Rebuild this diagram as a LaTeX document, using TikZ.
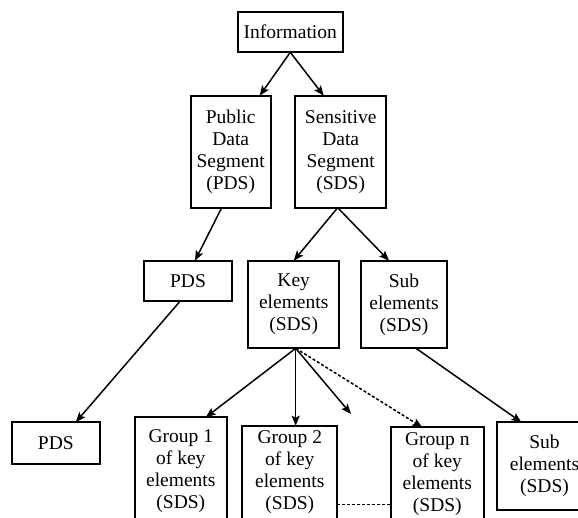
\documentclass[tikz,border=0pt]{standalone}
\usepackage{fontspec}
\setmainfont{Liberation Serif}
\usetikzlibrary{arrows.meta}
\begin{document}
\begin{tikzpicture}[x=1pt,y=-1pt,
    box/.style={draw, line width=2pt, align=center, inner sep=1pt, outer sep=0pt,
                font=\fontsize{19.5}{22}\selectfont},
    link/.style={line width=1.5pt, -{Stealth[length=10pt,width=8pt,inset=2pt]}}]
  \path[use as bounding box, clip] (0,0) rectangle (578,518);
  \path (290.3,32)  node[box, minimum width=105, minimum height=40.6] (info) {Information}
        (230.7,151.7) node[box, minimum width=80, minimum height=112] (pub) {Public\\Data\\Segment\\(PDS)}
        (340.7,151.7) node[box, minimum width=91.3, minimum height=112] (sen) {Sensitive\\Data\\Segment\\(SDS)}
        (188,281)   node[box, minimum width=88, minimum height=40.6] (pds) {PDS}
        (293.7,304.5) node[box, minimum width=90.7, minimum height=87.6] (key) {Key\\elements\\(SDS)}
        (404,304.5) node[box, minimum width=86.6, minimum height=87.6] (sub) {Sub\\elements\\(SDS)}
        (55.8,443)  node[box, minimum width=88.3, minimum height=41.7] (pdsb) {PDS}
        (180.8,471) node[box, minimum width=91.7, minimum height=107.4] (grpa) {Group 1\\of key\\elements\\(SDS)}
        (289.8,472.3) node[box, minimum width=95, minimum height=93.2] (grpb) {Group 2\\of key\\elements\\(SDS)}
        (437.3,474) node[box, minimum width=93.3, minimum height=93.4] (grpn) {Group n\\of key\\elements\\(SDS)}
        (544.5,466) node[box, minimum width=95, minimum height=87.4] (subb) {Sub\\elements\\(SDS)};
  \coordinate (more) at (351,414);
  \coordinate (dots) at ([yshift=-32pt]grpb.east);
  \draw[link] (info.south) -- ([xshift=29pt]pub.north);
  \draw[link] (info.south) -- ([xshift=-17pt]sen.north);
  \draw[link] ([xshift=-9pt]pub.south) -- ([xshift=7pt]pds.north);
  \draw[link] ([xshift=-3pt]sen.south) -- (key.north);
  \draw[link] ([xshift=-3pt]sen.south) -- ([xshift=-15pt]sub.north);
  \draw[link] ([xshift=-8pt]pds.south) -- ([xshift=20pt]pdsb.north);
  \draw[link] ([xshift=2pt]key.south) -- ([xshift=25pt]grpa.north);
  \draw[link] ([xshift=2pt]key.south) -- ([xshift=2pt]key.south |- grpb.north);
  \draw[link] ([xshift=2pt]key.south) -- (more);
  \draw[link, dash pattern=on 3pt off 2pt] ([xshift=2pt]key.south) -- ([xshift=-15pt]grpn.north);
  \draw[link] ([xshift=12pt]sub.south) -- ([xshift=-23pt]subb.north);
  \draw[line width=1.5pt, dash pattern=on 3pt off 2pt] (dots) -- (dots -| grpn.west);
\end{tikzpicture}
\end{document}
